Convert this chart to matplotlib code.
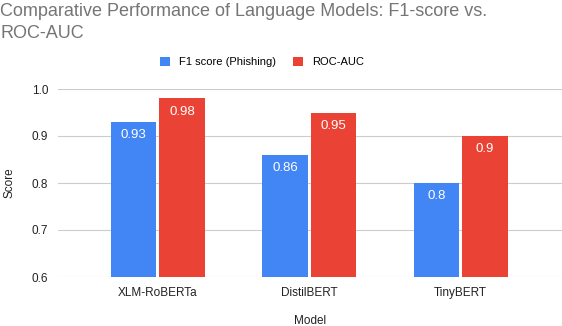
import numpy as np
import matplotlib.pyplot as plt

plt.rcParams['font.family'] = ['Liberation Sans', 'DejaVu Sans']

models = ['XLM-RoBERTa', 'DistilBERT', 'TinyBERT']
f1_scores = [0.93, 0.86, 0.8]
roc_auc = [0.98, 0.95, 0.9]
series_names = ['F1 score (Phishing)', 'ROC-AUC']
yticks = [0.6, 0.7, 0.8, 0.9, 1.0]

blue = '#4285F4'
red = '#EA4335'

W, H = 562, 326
fig = plt.figure(figsize=(W / 100, H / 100), dpi=100)
# axes box in pixel units
left, right, top, bottom = 58, 562, 89, 277
ax = fig.add_axes([left / W, 1 - bottom / H, (right - left) / W, (bottom - top) / H])

x = np.arange(len(models))
bw = 0.30
gap = 0.01
b1 = ax.bar(x - bw / 2 - gap, f1_scores, width=bw, color=blue, zorder=3)
b2 = ax.bar(x + bw / 2 + gap, roc_auc, width=bw, color=red, zorder=3)

for bars, vals in ((b1, f1_scores), (b2, roc_auc)):
    for b, v in zip(bars, vals):
        ax.annotate(f'{v:g}', (b.get_x() + b.get_width() / 2, v), xytext=(0, -9.5),
                    textcoords='offset points', ha='center', va='center',
                    color='white', fontsize=9.5, zorder=4)

ax.set_ylim(0.6, 1.0)
ax.set_xlim(-0.66, 2.67)
ax.set_yticks(yticks)
ax.set_yticklabels([f'{t:.1f}' for t in yticks])
ax.set_xticks(x)
ax.set_xticklabels(models)
ax.tick_params(axis='both', length=0, labelsize=8.5, colors='#222222')
ax.tick_params(axis='x', pad=7)
ax.tick_params(axis='y', pad=7)
ax.grid(axis='y', color='#cccccc', linewidth=0.8, zorder=0)
for s in ax.spines.values():
    s.set_visible(False)

ax.set_xlabel('Model', fontsize=8.5, color='#222222', labelpad=12)
ax.set_ylabel('Score', fontsize=8.5, color='#222222', labelpad=12)

fig.text(0, 1 - 3 / H, 'Comparative Performance of Language Models: F1-score vs.\nROC-AUC',
         ha='left', va='top', fontsize=13, color='#757575', linespacing=1.35)

# legend, placed in figure pixels
fig.legend([b1, b2], series_names, loc='center', bbox_to_anchor=(262 / W, 1 - 62 / H),
           ncol=2, frameon=False, fontsize=8, handlelength=0.9, handleheight=0.9,
           handletextpad=0.8, columnspacing=1.6)

fig.savefig('out.png', dpi=100)
